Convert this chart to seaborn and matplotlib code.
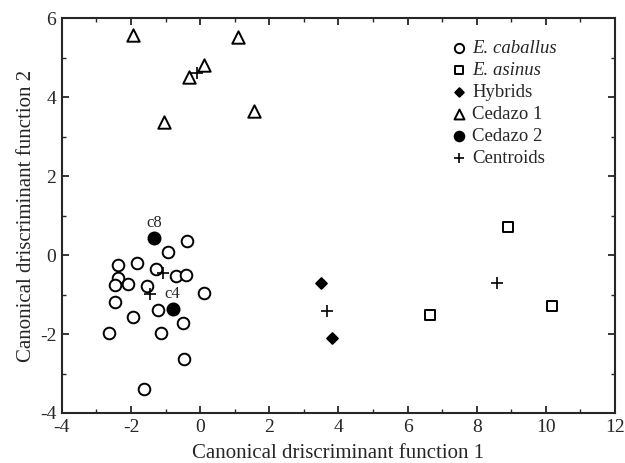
import matplotlib
matplotlib.use("Agg")
import matplotlib.pyplot as plt
import seaborn as sns
import pandas as pd
from matplotlib.ticker import MultipleLocator

# E. caballus
caballus_x = [-0.39, -0.93, -2.39, -1.84, -1.29, -0.70, -0.42, -2.39, -2.45, -2.08,
              -1.53, 0.12, -2.45, -1.22, -1.94, -0.49, -2.63, -1.12, -0.47, -1.63]
caballus_y = [0.35, 0.08, -0.25, -0.21, -0.36, -0.53, -0.51, -0.57, -0.76, -0.73,
              -0.78, -0.95, -1.18, -1.39, -1.56, -1.73, -1.98, -1.98, -2.64, -3.40]
# E. asinus
asinus_x = [8.90, 6.65, 10.17]
asinus_y = [0.72, -1.52, -1.29]
# Hybrids
hybrid_x = [3.49, 3.82]
hybrid_y = [-0.72, -2.10]
# Cedazo 1
ced1_x = [-1.94, 1.10, 0.12, -0.33, 1.56, -1.05]
ced1_y = [5.57, 5.52, 4.80, 4.52, 3.64, 3.38]
# Cedazo 2
ced2_x = [-1.34, -0.80]
ced2_y = [0.42, -1.37]
ced2_labels = ["c8", "c4"]
# Centroids
cent_x = [-1.44, 8.58, 3.67, -0.09, -1.07]
cent_y = [-0.99, -0.70, -1.41, 4.62, -0.46]

sns.set_style("ticks")
plt.rcParams["font.family"] = ["Liberation Serif", "DejaVu Serif"]
plt.rcParams["axes.unicode_minus"] = False

fig = plt.figure(figsize=(6.25, 4.63), dpi=100)
ax = fig.add_axes([0.099, 0.108, 0.885, 0.853])

groups = [
    ("E. caballus", caballus_x, caballus_y, "o", "white", 70),
    ("E. asinus", asinus_x, asinus_y, "s", "white", 60),
    ("Hybrids", hybrid_x, hybrid_y, "D", "black", 30),
    ("Cedazo 1", ced1_x, ced1_y, "^", "white", 80),
    ("Cedazo 2", ced2_x, ced2_y, "o", "black", 75),
]
for name, xs, ys, mk, fc, s in groups:
    df = pd.DataFrame({"x": xs, "y": ys})
    sns.scatterplot(data=df, x="x", y="y", marker=mk, s=s, facecolor=fc,
                    edgecolor="black", linewidth=1.4, ax=ax, label=name, zorder=3)

cdf = pd.DataFrame({"x": cent_x, "y": cent_y})
sns.scatterplot(data=cdf, x="x", y="y", marker="+", s=70, color="black",
                linewidth=1.2, ax=ax, label="Centroids", zorder=4)

for xv, yv, lab in zip(ced2_x, ced2_y, ced2_labels):
    ax.annotate(lab, (xv, yv), xytext=(0, 5), textcoords="offset points",
                ha="center", va="bottom", fontsize=12)

ax.set_xlim(-4, 12)
ax.set_ylim(-4, 6)
ax.xaxis.set_major_locator(MultipleLocator(2))
ax.xaxis.set_minor_locator(MultipleLocator(1))
ax.yaxis.set_major_locator(MultipleLocator(2))
ax.yaxis.set_minor_locator(MultipleLocator(1))
ax.tick_params(which="both", direction="in", top=True, right=True, labelsize=14)
ax.tick_params(which="major", length=5, width=1.3, pad=4)
ax.tick_params(which="minor", length=3, width=1)
for sp in ax.spines.values():
    sp.set_linewidth(1.5)
    sp.set_visible(True)

ax.set_xlabel("Canonical driscriminant function 1", fontsize=15, labelpad=6)
ax.set_ylabel("Canonical driscriminant function 2", fontsize=15, labelpad=3)

leg = ax.legend(loc="upper left", bbox_to_anchor=(0.701, 0.945), frameon=False,
                fontsize=13.5, handletextpad=0.2, labelspacing=0.26,
                borderaxespad=0, borderpad=0, handlelength=1.0, markerscale=0.8)
for t in leg.get_texts():
    if t.get_text().startswith("E."):
        t.set_fontstyle("italic")

fig.savefig("out.png", dpi=100)
